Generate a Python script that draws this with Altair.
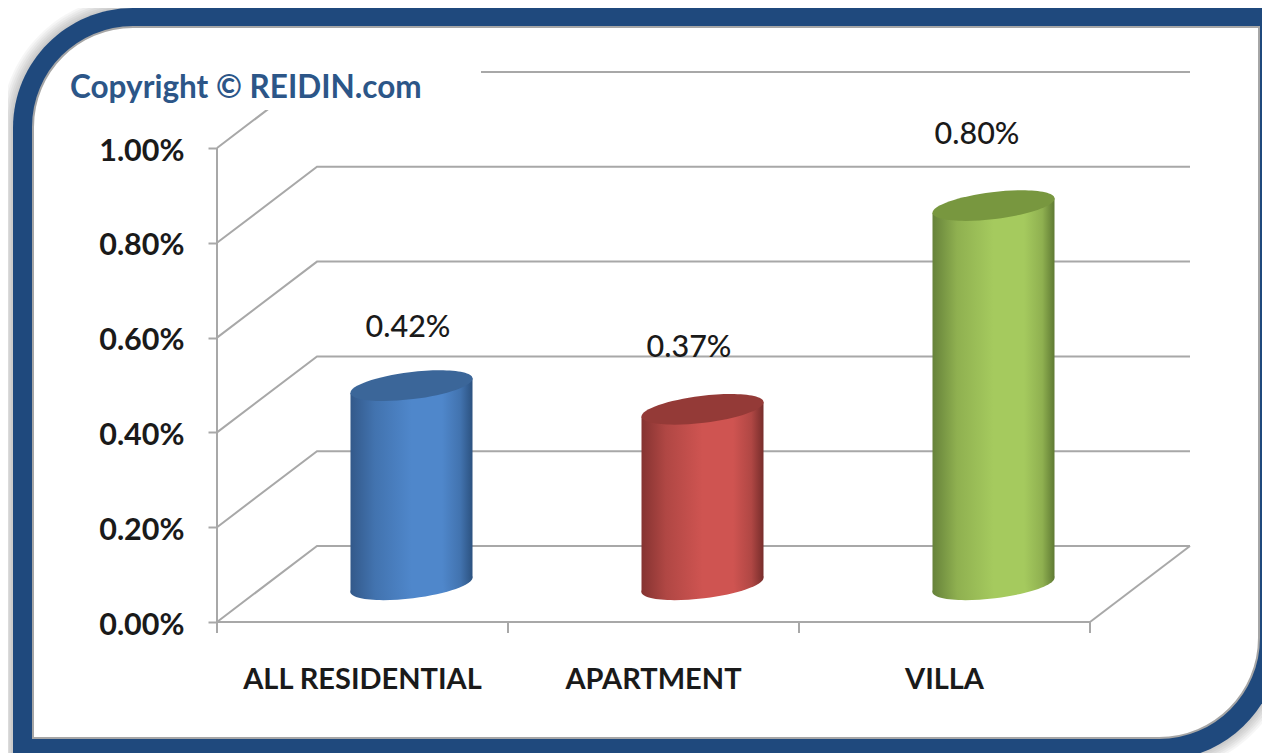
import altair as alt
import pandas as pd

categories = ["ALL RESIDENTIAL", "APARTMENT", "VILLA"]
values = [0.0042, 0.0037, 0.0080]
value_labels = ["0.42%", "0.37%", "0.80%"]
y_ticks = [0.0, 0.002, 0.004, 0.006, 0.008, 0.010]
copyright_text = "Copyright \u00a9 REIDIN.com"

body_dark_l = ["#33598a", "#853331", "#66823a"]
body_mid_l = ["#4273af", "#b04744", "#8fb050"]
body_light = ["#4f87cb", "#cf5451", "#a5ca5e"]
body_dark_r = ["#2c5280", "#772d2b", "#5f7a33"]
top_colors = ["#3b6699", "#943a37", "#78973f"]

W, H = 1254, 745
PX = 291.0      # pixels per category
PV = 47400.0    # pixels per unit of value (474 px = 1%)
DX = 100 / PX   # depth vector in data units
DV = 76 / PV


def xd(px):
    return (px - 217) / PX


def yd(py):
    return (622 - py) / PV


GRID = "#a8a8a8"
FONT = "Lato"
xscale = alt.Scale(domain=[xd(8), xd(8 + W)], range=[0, W], nice=False, zero=False)
yscale = alt.Scale(domain=[yd(8 + H), yd(8)], range=[H, 0], nice=False, zero=False)
y_axis = alt.Axis(
    values=y_ticks, format=".2%", title=None, orient="left", offset=-209, domain=False, grid=False,
    tickColor=GRID, tickWidth=2, tickSize=9, labelPadding=24, labelFont=FONT, labelFontSize=30.5,
    labelFontWeight=700, labelColor="#1a1a1a", labelOffset=3, zindex=1)
X = alt.X("x:Q", scale=xscale, axis=None)
Y = alt.Y("y:Q", scale=yscale, axis=y_axis)


def box(x0, y0, x1, y1, **kw):
    return alt.Chart(pd.DataFrame({"a": [0]})).mark_rect(**kw).encode(
        x=alt.value(x0 - 8), x2=alt.value(x1 - 8), y=alt.value(y0 - 8), y2=alt.value(y1 - 8)
    )


layers = []
# soft shadow round the frame
for k in [12, 10, 8, 6, 4, 2]:
    layers.append(box(13 - k, 8 - k, 1280 + k, 760 + k, fill="#000000", opacity=0.035,
                      cornerRadiusTopLeft=120 + k, cornerRadiusBottomRight=120 + k))
# frame
layers.append(box(13, 8, 1280, 760, fill="#1f497d",
                  cornerRadiusTopLeft=120, cornerRadiusBottomRight=120))
layers.append(box(33, 27, 1259, 738, fill="#ffffff", stroke="#a6a6a6", strokeWidth=2,
                  cornerRadiusTopLeft=100, cornerRadiusBottomRight=100))

# walls and floor
grid_rows = []
for v in y_ticks:
    for o, (gx, gy) in enumerate([(0, v), (DX, v + DV), (3 + DX, v + DV)]):
        grid_rows.append({"x": gx, "y": gy, "o": o, "k": f"{v}"})
grid_rows += [{"x": 3, "y": 0, "o": 0, "k": "right"}, {"x": 3 + DX, "y": DV, "o": 1, "k": "right"},
              {"x": 0, "y": 0, "o": 0, "k": "left"}, {"x": 0, "y": y_ticks[-1], "o": 1, "k": "left"},
              {"x": 0, "y": 0, "o": 0, "k": "front"}, {"x": 3, "y": 0, "o": 1, "k": "front"}]
layers.append(alt.Chart(pd.DataFrame(grid_rows)).mark_line(color=GRID, strokeWidth=2).encode(
    x=X, y=Y, order="o:Q", detail="k:N"))

# category ticks
tick_df = pd.DataFrame({"x": [0, 1, 2, 3], "y": [0, 0, 0, 0], "y2": [-11 / PV] * 4})
layers.append(alt.Chart(tick_df).mark_rule(color=GRID, strokeWidth=2).encode(x=X, y=Y, y2="y2:Q"))

# white plate behind the copyright note hides the top of the wall
layers.append(box(216, 55, 481, 110, fill="#ffffff"))
layers.append(alt.Chart(pd.DataFrame({"t": [copyright_text]})).mark_text(
    align="left", baseline="middle", font=FONT, fontSize=31.5, fontWeight=700, color="#2c5688"
).encode(x=alt.value(70 - 8), y=alt.value(89 - 8), text="t:N"))

# cylinders
HALF = 61.0 / PX
TILT = 7.4 / PV
MID = 0.49
ELLIPSE = "M-1,0A1,0.22,0,1,1,1,0A1,0.22,0,1,1,-1,0Z"
for i, v in enumerate(values):
    cx = i + 0.5 + MID * DX
    base = MID * DV
    grad = alt.Gradient(gradient="linear", x1=0, x2=1, y1=0, y2=0, stops=[
        alt.GradientStop(offset=0, color=body_dark_l[i]),
        alt.GradientStop(offset=0.2, color=body_mid_l[i]),
        alt.GradientStop(offset=0.5, color=body_light[i]),
        alt.GradientStop(offset=0.75, color=body_light[i]),
        alt.GradientStop(offset=0.9, color=body_mid_l[i]),
        alt.GradientStop(offset=1, color=body_dark_r[i]),
    ])
    pt = pd.DataFrame({"x": [cx], "y": [base]})
    layers.append(alt.Chart(pt).mark_point(shape=ELLIPSE, size=15129, angle=353, filled=True,
                                           fill=grad, opacity=1, strokeWidth=0).encode(x=X, y=Y))
    body = pd.DataFrame({"x": [cx - HALF, cx + HALF],
                         "y": [base + v - TILT, base + v + TILT],
                         "y2": [base - TILT, base + TILT]})
    layers.append(alt.Chart(body).mark_area(color=grad, opacity=1).encode(x=X, y=Y, y2="y2:Q"))
    pt2 = pd.DataFrame({"x": [cx], "y": [base + v]})
    layers.append(alt.Chart(pt2).mark_point(shape=ELLIPSE, size=15129, angle=353, filled=True,
                                            fill=top_colors[i], opacity=1, strokeWidth=0).encode(x=X, y=Y))

# data labels
label_px = [(408, 328), (689, 348), (977, 135)]
for t, (lx, ly) in zip(value_labels, label_px):
    layers.append(alt.Chart(pd.DataFrame({"t": [t]})).mark_text(
        align="center", baseline="middle", font=FONT, fontSize=30.5, fontWeight=500, color="#1a1a1a"
    ).encode(x=alt.value(lx - 8), y=alt.value(ly - 8), text="t:N"))

# category labels
cat_df = pd.DataFrame({"x": [i + 0.5 for i in range(3)], "y": [yd(680)] * 3, "t": categories})
layers.append(alt.Chart(cat_df).mark_text(
    align="center", baseline="middle", font=FONT, fontSize=29, fontWeight=700, color="#1a1a1a"
).encode(x=X, y=Y, text="t:N"))

chart = alt.layer(*layers).properties(
    width=W, height=H, padding=0, background="#ffffff",
    autosize=alt.AutoSizeParams(type="none"),
).configure_view(stroke=None)

chart.save("out.html", embed_options={"renderer": "svg", "actions": False})
